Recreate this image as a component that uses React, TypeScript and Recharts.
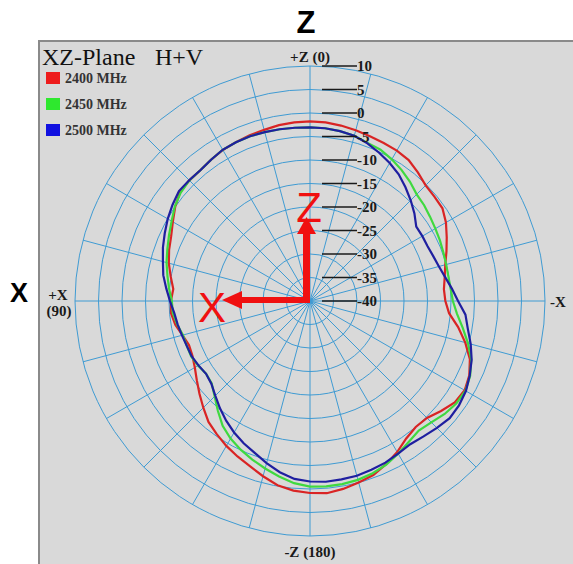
import React from 'react';
import { RadarChart, Radar, PolarGrid, PolarAngleAxis, PolarRadiusAxis } from 'recharts';

// Angle (deg) measured from +Z (top), counter-clockwise towards +X (left)
const angles = [0, 5, 10, 15, 20, 25, 30, 35, 40, 45, 50, 55, 60, 65, 70, 75, 80, 85,
  90, 95, 100, 105, 110, 115, 120, 125, 130, 135, 140, 145, 150, 155, 160, 165, 170, 175,
  180, 185, 190, 195, 200, 205, 210, 215, 220, 225, 230, 235, 240, 245, 250, 255, 260, 265,
  270, 275, 280, 285, 290, 295, 300, 305, 310, 315, 320, 325, 330, 335, 340, 345, 350, 355];

const pattern2400 = [-1.85, -2.0, -2.3, -2.5, -2.7, -2.9, -3.3, -3.7, -3.7, -3.9, -5.0, -6.3, -7.4, -8.1, -8.9, -9.9, -10.8, -10.4,
  -10.3, -10.9, -11.9, -12.6, -12.4, -11.7, -10.6, -9.3, -7.9, -6.4, -5.4, -4.4, -3.5, -2.6, -1.4, -0.2, 0.5, 0.85,
  1.05, 0.6, 0.0, -0.6, -1.7, -2.9, -4.3, -5.0, -4.8, -3.6, -2.4, -2.0, -2.6, -3.8, -5.8, -8.0, -10.3, -11.2,
  -11.4, -10.9, -10.2, -9.1, -7.9, -6.6, -5.6, -5.45, -5.2, -4.3, -3.4, -3.05, -2.9, -2.7, -2.4, -2.1, -1.85, -1.8];

const pattern2450 = [-3.0, -2.9, -2.8, -2.7, -2.75, -2.85, -3.3, -3.7, -3.7, -4.1, -4.9, -6.0, -6.9, -7.7, -8.4, -9.2, -9.9, -10.6,
  -10.7, -11.3, -12.0, -12.1, -12.1, -12.5, -13.0, -12.7, -11.3, -9.5, -7.6, -6.2, -5.1, -4.1, -3.1, -2.1, -1.1, -0.5,
  -0.4, -0.45, -0.6, -1.0, -1.6, -2.5, -3.4, -4.0, -3.5, -2.6, -2.0, -1.8, -2.4, -3.5, -5.2, -7.0, -8.6, -9.6,
  -9.95, -10.1, -10.0, -9.8, -9.5, -9.2, -8.8, -8.3, -7.9, -6.9, -6.0, -5.2, -4.5, -4.2, -3.6, -3.3, -3.1, -3.05];

const pattern2500 = [-3.0, -2.9, -2.8, -2.7, -2.75, -2.85, -3.3, -3.7, -3.65, -3.6, -4.3, -5.05, -5.9, -6.7, -7.6, -8.3, -9.3, -10.2,
  -11.0, -11.4, -11.8, -12.1, -12.2, -12.6, -13.0, -12.6, -11.5, -10.2, -8.9, -7.7, -6.6, -5.6, -4.3, -3.0, -2.0, -1.6,
  -1.4, -1.45, -1.5, -1.8, -2.05, -2.5, -2.8, -2.4, -1.8, -1.2, -1.3, -1.7, -2.5, -3.4, -4.6, -5.9, -6.8, -8.5,
  -9.7, -10.8, -11.6, -12.1, -12.4, -12.4, -12.4, -11.0, -9.7, -8.4, -7.1, -6.1, -5.2, -4.3, -3.6, -3.3, -3.1, -3.05];

const radiusTicks = [-40, -35, -30, -25, -20, -15, -10, -5, 0, 5, 10];
const gridSpokes = [0, 15, 30, 45, 60, 75, 90, 105, 120, 135, 150, 165, 180, 195, 210, 225, 240, 255, 270, 285, 300, 315, 330, 345];

const seriesNames = ['2400 MHz', '2450 MHz', '2500 MHz'];
const seriesKeys = ['f2400', 'f2450', 'f2500'];
const lineColors = ['#d92424', '#3fd93f', '#1f1fa0'];
const legendColors = ['#ee1c1c', '#2ee82e', '#1010e0'];

const title = 'XZ-Plane';
const subtitle = 'H+V';

const data = angles.map((a, i) => ({
  angle: a,
  f2400: pattern2400[i],
  f2450: pattern2450[i],
  f2500: pattern2500[i],
}));

const SERIF = '"Liberation Serif", "DejaVu Serif", serif';
const SANS = '"Liberation Sans", Arial, sans-serif';
const GRID = '#3f9bd3';

const css = `
.recharts-wrapper line:not(.rtick) { stroke: ${GRID} !important; stroke-width: 1px !important; }
.recharts-wrapper [stroke="#666"]:not(.rtick), .recharts-wrapper [stroke="#ccc"]:not(.rtick),
.recharts-wrapper [stroke="#808080"], .recharts-wrapper [stroke="#999"], .recharts-wrapper [stroke="#000"],
.recharts-wrapper [stroke="black"], .recharts-wrapper [stroke="#333"], .recharts-wrapper [stroke="#555"] { stroke: ${GRID} !important; }
.recharts-polar-angle-axis { display: none; }
`;

const RadiusTick = (props: any) => {
  const { x, y, payload } = props;
  return (
    <g>
      <line className="rtick" x1={x + 12} y1={y} x2={x + 47} y2={y} stroke="#1a1a1a" strokeWidth={1.4} />
      <text x={x + 47} y={y} dy={5} fontFamily={SERIF} fontWeight="bold" fontSize={15} fill="#1a1a1a" textAnchor="start">
        {payload.value}
      </text>
    </g>
  );
};

export default function App() {
  return (
    <div style={{ position: 'absolute', left: 0, top: 0, width: 573, height: 564, background: '#ffffff', overflow: 'hidden' }}>
      <style>{css}</style>
      <div
        style={{
          position: 'absolute',
          left: 38,
          top: 40,
          width: 560,
          height: 560,
          background: '#d9d9d9',
          borderTop: '2px solid #8a8a8a',
          borderLeft: '2px solid #8a8a8a',
        }}
      />
      <div style={{ position: 'absolute', left: 0, top: 0 }}>
        <RadarChart
          width={573}
          height={564}
          cx={310}
          cy={301}
          outerRadius={235}
          startAngle={90}
          endAngle={450}
          data={data}
          margin={{ top: 0, right: 0, bottom: 0, left: 0 }}
        >
          <PolarGrid gridType="circle" polarAngles={gridSpokes} radialLines stroke={GRID} strokeWidth={1} />
          <PolarAngleAxis dataKey="angle" tick={false} axisLine={false} tickLine={false} />
          <PolarRadiusAxis
            angle={90}
            type="number"
            domain={[-40, 10]}
            ticks={radiusTicks}
            tickCount={11}
            axisLine={false}
            tickLine={false}
            tick={RadiusTick}
          />
          {seriesKeys.map((k, i) => (
            <Radar
              key={k}
              name={seriesNames[i]}
              dataKey={k}
              stroke={lineColors[i]}
              strokeWidth={2.2}
              fill="none"
              fillOpacity={0}
              dot={false}
              activeDot={false}
              isAnimationActive={false}
            />
          ))}
        </RadarChart>
      </div>
      <svg width={573} height={564} style={{ position: 'absolute', left: 0, top: 0, pointerEvents: 'none' }}>
        <text x={306} y={33} fontFamily={SANS} fontWeight="bold" fontSize={31} textAnchor="middle" fill="#000">Z</text>
        <text x={19} y={302} fontFamily={SANS} fontWeight="bold" fontSize={27} textAnchor="middle" fill="#000">X</text>

        <text x={42} y={65} fontFamily={SERIF} fontSize={24} fill="#111">{title}</text>
        <text x={155} y={65} fontFamily={SERIF} fontSize={24} fill="#111">{subtitle}</text>
        {seriesNames.map((n, i) => (
          <g key={n}>
            <rect x={46} y={72 + i * 26} width={14} height={12} fill={legendColors[i]} />
            <text x={65} y={83 + i * 26} fontFamily={SERIF} fontWeight="bold" fontSize={14} fill="#333">{n}</text>
          </g>
        ))}

        <text x={310} y={62} fontFamily={SERIF} fontWeight="bold" fontSize={15} textAnchor="middle" fill="#1a1a1a">+Z (0)</text>
        <text x={58} y={300} fontFamily={SERIF} fontWeight="bold" fontSize={15} textAnchor="middle" fill="#1a1a1a">+X</text>
        <text x={59} y={316} fontFamily={SERIF} fontWeight="bold" fontSize={15} textAnchor="middle" fill="#1a1a1a">(90)</text>
        <text x={550} y={307} fontFamily={SERIF} fontWeight="bold" fontSize={15} fill="#1a1a1a">-X</text>
        <text x={310} y={557} fontFamily={SERIF} fontWeight="bold" fontSize={15} textAnchor="middle" fill="#1a1a1a">-Z (180)</text>

        <line x1={306.5} y1={303} x2={306.5} y2={232} stroke="#f01010" strokeWidth={7} />
        <polygon points="297,234 316,234 306.5,217" fill="#f01010" />
        <line x1={310} y1={300} x2={240} y2={300} stroke="#f01010" strokeWidth={6} />
        <polygon points="242,291 242,309 222,300" fill="#f01010" />
        <text x={309} y={222} fontFamily={SANS} fontSize={42} textAnchor="middle" fill="#f01010">Z</text>
        <text x={212} y={322} fontFamily={SANS} fontSize={42} textAnchor="middle" fill="#f01010">X</text>
      </svg>
    </div>
  );
}
